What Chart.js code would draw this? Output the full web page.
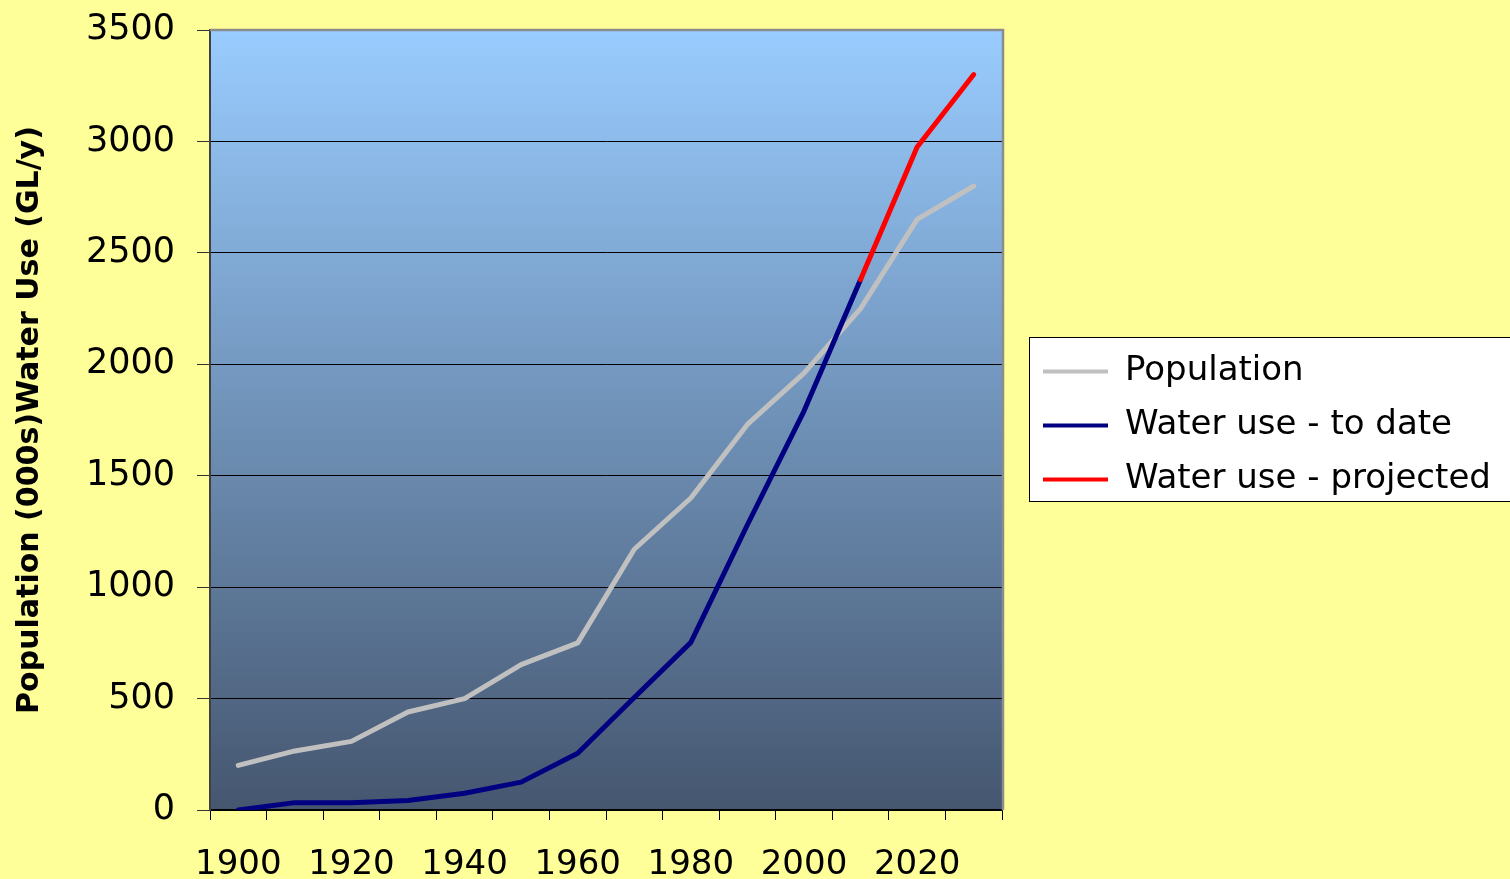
<!DOCTYPE html>
<html>
<head>
<meta charset="utf-8">
<script src="https://cdn.jsdelivr.net/npm/chart.js@4"></script>
<style>
html,body{margin:0;padding:0;background:#FFFF99;}
#wrap{width:1510px;height:879px;}
</style>
</head>
<body>
<div id="wrap"><canvas id="c" width="1510" height="879"></canvas></div>
<script>
const YEARS = ['1900','1910','1920','1930','1940','1950','1960','1970','1980','1990','2000','2010','2020','2030'];
const TICK_LABELS = ['1900','','1920','','1940','','1960','','1980','','2000','','2020',''];
const POPULATION = [200, 265, 308, 440, 500, 652, 750, 1170, 1400, 1730, 1960, 2250, 2650, 2800];
const WATER_TO_DATE = [0, 33, 33, 43, 75, 125, 255, 505, 752, 1280, 1790, 2380, null, null];
const WATER_PROJECTED = [null, null, null, null, null, null, null, null, null, null, null, 2380, 2975, 3300];
const SERIES_LABELS = ['Population', 'Water use - to date', 'Water use - projected'];
const Y_TITLE = 'Population (000s)Water Use (GL/y)';

const FONT = "'DejaVu Sans', sans-serif";

const deco = {
  id: 'deco',
  beforeLayout(chart) {
    const lg = chart.legend;
    if (lg && !lg._wPatched) {
      const orig = lg.fit;
      lg.fit = function () { orig.call(this); this.width = 508; };
      lg._wPatched = true;
    }
  },
  afterLayout(chart) {
    const lg = chart.legend;
    lg.left += 21; lg.right += 21;
    lg.top -= 29; lg.bottom -= 29;
  },
  beforeDraw(chart) {
    const ctx = chart.ctx, a = chart.chartArea;
    ctx.save();
    ctx.fillStyle = '#FFFF99';
    ctx.fillRect(0, 0, chart.width, chart.height);
    const g = ctx.createLinearGradient(0, a.top, 0, a.bottom);
    g.addColorStop(0, '#99CCFF');
    g.addColorStop(1, '#45566F');
    ctx.fillStyle = g;
    ctx.fillRect(a.left, a.top, a.right - a.left, a.bottom - a.top);
    const hb = chart.legend.legendHitBoxes;
    if (hb && hb.length) {
      const first = hb[0], last = hb[hb.length - 1];
      const x0 = Math.round(first.left - 14) + 0.5;
      const y0 = Math.round(first.top - 18) + 0.5;
      const y1 = Math.round(last.top + last.height + 4) + 0.5;
      ctx.fillStyle = '#FFFFFF';
      ctx.fillRect(x0, y0, chart.width + 10 - x0, y1 - y0);
      ctx.strokeStyle = '#000000';
      ctx.lineWidth = 1;
      ctx.strokeRect(x0, y0, chart.width + 10 - x0, y1 - y0);
    }
    ctx.restore();
  },
  afterDatasetsDraw(chart) {
    const ctx = chart.ctx, a = chart.chartArea;
    ctx.save();
    ctx.strokeStyle = '#8C8C8C';
    ctx.lineWidth = 2.5;
    ctx.beginPath();
    ctx.moveTo(a.left, a.top);
    ctx.lineTo(a.right + 1, a.top);
    ctx.lineTo(a.right + 1, a.bottom);
    ctx.stroke();
    ctx.restore();
  }
};

new Chart(document.getElementById('c'), {
  type: 'line',
  data: {
    labels: YEARS,
    datasets: [
      { label: SERIES_LABELS[0], data: POPULATION, borderColor: '#C0C0C0', backgroundColor: '#C0C0C0', order: 2 },
      { label: SERIES_LABELS[1], data: WATER_TO_DATE, borderColor: '#000080', backgroundColor: '#000080', order: 1 },
      { label: SERIES_LABELS[2], data: WATER_PROJECTED, borderColor: '#FF0000', backgroundColor: '#FF0000', order: 0 }
    ]
  },
  options: {
    responsive: false,
    animation: false,
    events: [],
    layout: { padding: { top: 30, left: 0, right: 0, bottom: 0 } },
    elements: {
      line: { borderWidth: 5, tension: 0, borderCapStyle: 'round', borderJoinStyle: 'round', fill: false },
      point: { radius: 0, hoverRadius: 0 }
    },
    spanGaps: false,
    scales: {
      x: {
        type: 'category',
        offset: true,
        grid: { offset: true, drawOnChartArea: false, drawTicks: true, tickLength: 10, color: '#000', tickColor: '#000' },
        border: { display: true, color: '#000', width: 1.5 },
        ticks: {
          autoSkip: false, maxRotation: 0, minRotation: 0, padding: 25, color: '#000',
          font: { family: FONT, size: 34 },
          callback: (v, i) => TICK_LABELS[i]
        },
        afterFit(scale) { scale.height = 69; scale.paddingLeft = 0; scale.paddingRight = 0; }
      },
      y: {
        min: 0, max: 3500,
        grid: {
          color: (c) => (c.tick && c.tick.value === 3500) ? 'rgba(0,0,0,0)' : '#000',
          tickColor: '#333', tickLength: 13, lineWidth: 1
        },
        border: { display: true, color: '#404040', width: 2 },
        ticks: {
          stepSize: 500, padding: 22, color: '#000',
          font: { family: FONT, size: 35 },
          callback: (v) => String(v)
        },
        title: {
          display: true, text: Y_TITLE, color: '#000',
          font: { family: FONT, size: 30, weight: 'bold' },
          padding: { top: 12, bottom: 0 }
        },
        afterFit(scale) { scale.width = 210; scale.paddingTop = 0; scale.paddingBottom = 0; }
      }
    },
    plugins: {
      tooltip: { enabled: false },
      legend: {
        position: 'right',
        align: 'center',
        labels: {
          color: '#000',
          font: { family: FONT, size: 34 },
          boxWidth: 65, boxHeight: 4, padding: 20,
          sort: (a, b) => a.datasetIndex - b.datasetIndex,
          generateLabels(chart) {
            return chart.data.datasets.map((ds, i) => ({
              text: ds.label, fillStyle: ds.borderColor, strokeStyle: ds.borderColor,
              lineWidth: 0, hidden: false, datasetIndex: i, fontColor: '#000'
            }));
          }
        }
      }
    }
  },
  plugins: [deco]
});
</script>
</body>
</html>
